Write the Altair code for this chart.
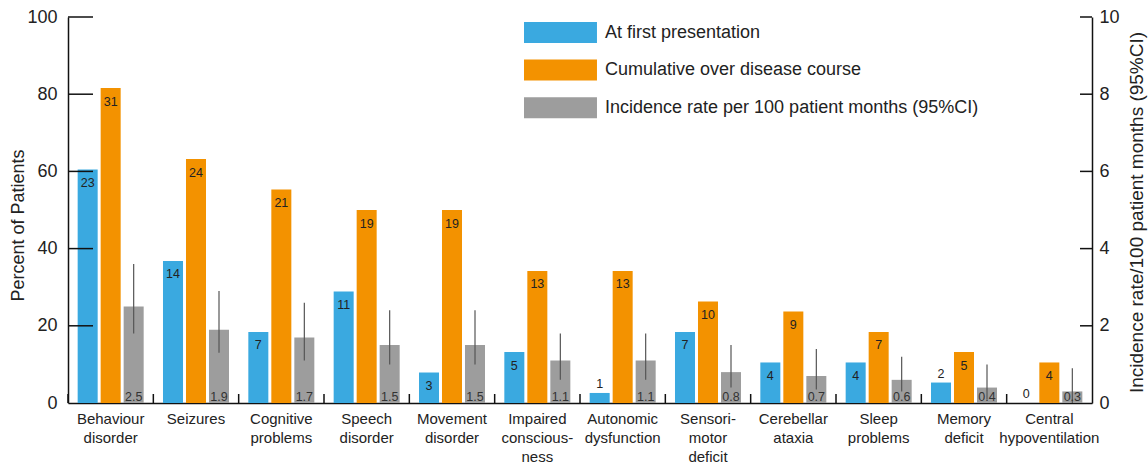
import altair as alt
import pandas as pd

categories = ["Behaviour\ndisorder", "Seizures", "Cognitive\nproblems", "Speech\ndisorder",
              "Movement\ndisorder", "Impaired\nconscious-\nness", "Autonomic\ndysfunction",
              "Sensori-\nmotor\ndeficit", "Cerebellar\nataxia", "Sleep\nproblems",
              "Memory\ndeficit", "Central\nhypoventilation"]
series_names = ["At first presentation", "Cumulative over disease course",
                "Incidence rate per 100 patient months (95%CI)"]
series_colors = ["#3AA9E0", "#F39200", "#9D9D9D"]

first_pct = [60.5, 36.8, 18.4, 28.9, 7.9, 13.2, 2.6, 18.4, 10.5, 10.5, 5.3, 0.0]
first_n = [23, 14, 7, 11, 3, 5, 1, 7, 4, 4, 2, 0]
cum_pct = [81.6, 63.2, 55.3, 50.0, 50.0, 34.2, 34.2, 26.3, 23.7, 18.4, 13.2, 10.5]
cum_n = [31, 24, 21, 19, 19, 13, 13, 10, 9, 7, 5, 4]
rate = [2.5, 1.9, 1.7, 1.5, 1.5, 1.1, 1.1, 0.8, 0.7, 0.6, 0.4, 0.3]
ci_low = [1.8, 1.3, 1.1, 1.0, 1.0, 0.6, 0.6, 0.4, 0.35, 0.3, 0.1, 0.0]
ci_high = [3.6, 2.9, 2.6, 2.4, 2.4, 1.8, 1.8, 1.5, 1.4, 1.2, 1.0, 0.9]

left_ticks = [20, 40, 60, 80, 100]
right_ticks = [2, 4, 6, 8, 10]

W, H = 1024, 386

pct_rows = []
for i, c in enumerate(categories):
    pct_rows.append({"cat": c, "series": series_names[0], "pct": first_pct[i], "n": first_n[i]})
    pct_rows.append({"cat": c, "series": series_names[1], "pct": cum_pct[i], "n": cum_n[i]})
df_pct = pd.DataFrame(pct_rows)

df_rate = pd.DataFrame({"cat": categories, "series": series_names[2], "rate": rate,
                        "lo": ci_low, "hi": ci_high})
df_lt = pd.DataFrame({"v": left_ticks})
df_rt = pd.DataFrame({"v": right_ticks})
df_cat = pd.DataFrame({"cat": categories})

xscale = alt.Scale(domain=categories, paddingInner=0, paddingOuter=0)
x_ax = alt.Axis(labelExpr="split(datum.label, '\\n')", labelFontSize=15,
                labelLineHeight=19, labelBaseline="top", labelPadding=8.5,
                labelAngle=0, ticks=False, domainColor="#111", domainWidth=1.5,
                labelColor="#222", labelOverlap=False, labelLimit=0, title=None)


def X(**kw):
    return alt.X("cat:N", sort=categories, scale=xscale, axis=x_ax, title=None, **kw)


xoff = alt.XOffset("series:N", scale=alt.Scale(domain=series_names, paddingInner=0.13,
                                               paddingOuter=0.42))
color = alt.Color("series:N", scale=alt.Scale(domain=series_names, range=series_colors),
                  legend=alt.Legend(title=None, orient="none", legendX=456, legendY=5,
                                    symbolType="M-1,-1L5.95,-1L5.95,1L-1,1Z", symbolSize=441,
                                    symbolStrokeWidth=0, labelFontSize=18, labelOffset=60,
                                    rowPadding=16.6, labelColor="#222", labelLimit=0,
                                    padding=0))

yl_scale = alt.Scale(domain=[0, 100])
yr_scale = alt.Scale(domain=[0, 10])
yl_title = "Percent of Patients"
yr_title = "Incidence rate/100 patient months (95%CI)"
yl_ax = alt.Axis(values=[0, 20, 40, 60, 80, 100], ticks=False, grid=False,
                 labelFontSize=18, labelPadding=11, labelColor="#222",
                 domainColor="#111", domainWidth=1.5,
                 title=yl_title, titleFontSize=18,
                 titleFontWeight="normal", titleAngle=270, titleX=-45, titleY=208,
                 titleBaseline="alphabetic", titleAlign="center", titleColor="#222")
yr_ax = alt.Axis(orient="right", values=[0, 2, 4, 6, 8, 10], ticks=False, grid=False,
                 labelFontSize=18, labelPadding=7, labelColor="#222",
                 domainColor="#111", domainWidth=1.5,
                 title=yr_title, titleFontSize=19,
                 titleFontWeight="normal", titleAngle=270, titleX=50, titleY=195,
                 titleBaseline="alphabetic", titleAlign="center", titleColor="#222")


def YL(field):
    return alt.Y(field, scale=yl_scale, axis=yl_ax, title=yl_title)


def YR(field):
    return alt.Y(field, scale=yr_scale, axis=yr_ax, title=yr_title)


bars_left = alt.Chart(df_pct).mark_bar().encode(
    x=X(), xOffset=xoff, color=color, y=YL("pct:Q"))
text_in = alt.Chart(df_pct).transform_filter("datum.pct >= 6").mark_text(
    baseline="top", dy=7.5, fontSize=12.5, color="#222").encode(
    x=X(), xOffset=xoff, y=YL("pct:Q"), text="n:Q")
text_above = alt.Chart(df_pct).transform_filter("datum.pct < 6").mark_text(
    baseline="bottom", dy=-2, fontSize=12.5, color="#222").encode(
    x=X(), xOffset=xoff, y=YL("pct:Q"), text="n:Q")
lt_rules = alt.Chart(df_lt).mark_rule(color="#111", strokeWidth=1.5).encode(
    y=YL("v:Q"), x=alt.value(0), x2=alt.value(25))
sep_rules = alt.Chart(df_cat).mark_rule(color="#111", strokeWidth=1.5).encode(
    x=X(bandPosition=0), y=alt.value(H), y2=alt.value(H - 9))

left = alt.layer(bars_left, text_in, text_above, lt_rules, sep_rules)

bars_right = alt.Chart(df_rate).mark_bar().encode(
    x=X(), xOffset=xoff, color=color, y=YR("rate:Q"))
err = alt.Chart(df_rate).mark_rule(color="#555", strokeWidth=1.2).encode(
    x=X(), xOffset=xoff, y=YR("lo:Q"), y2="hi:Q")
text_gray = alt.Chart(df_rate).mark_text(baseline="alphabetic", dy=-2, fontSize=12.5,
                                         color="#333").encode(
    x=X(), xOffset=xoff, y=alt.Y(datum=0, scale=yr_scale, axis=yr_ax, title=yr_title),
    text=alt.Text("rate:Q", format=".1f"))
rt_rules = alt.Chart(df_rt).mark_rule(color="#111", strokeWidth=1.5).encode(
    y=YR("v:Q"), x=alt.value(W - 12), x2=alt.value(W))

right = alt.layer(bars_right, err, text_gray, rt_rules)

chart = alt.layer(left, right).resolve_scale(y="independent").properties(
    width=W, height=H,
    autosize=alt.AutoSizeParams(type="none"),
    padding={"left": 68, "top": 17, "right": 56, "bottom": 61},
).configure(font="Liberation Sans").configure_view(stroke=None)

chart.save("out.html", embed_options={"renderer": "svg", "actions": False})
